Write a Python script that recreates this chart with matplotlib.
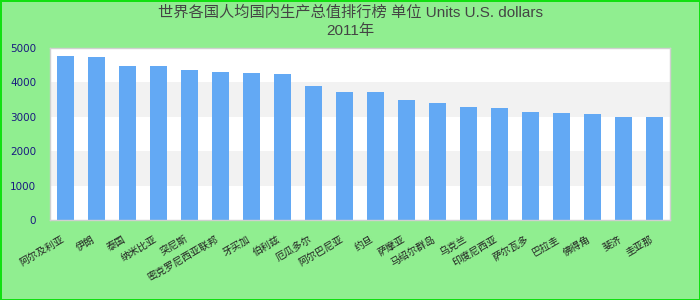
import numpy as np
import matplotlib
matplotlib.use('Agg')
import matplotlib.pyplot as plt

# data (2011, U.S. dollars)
countries = ['阿尔及利亚', '伊朗', '泰国', '纳米比亚', '突尼斯', '密克罗尼西亚联邦',
             '牙买加', '伯利兹', '厄瓜多尔', '阿尔巴尼亚', '约旦', '萨摩亚',
             '马绍尔群岛', '乌克兰', '印度尼西亚', '萨尔瓦多', '巴拉圭', '佛得角',
             '斐济', '圭亚那']
values = [4780, 4740, 4490, 4480, 4370, 4290, 4280, 4250, 3900, 3730,
          3720, 3500, 3410, 3290, 3270, 3150, 3120, 3090, 3000, 2990]
y_ticks = [0, 1000, 2000, 3000, 4000, 5000]
title = '世界各国人均国内生产总值排行榜 单位 Units U.S. dollars\n2011年'

cjk = ['Noto Sans CJK SC', 'DejaVu Sans']

fig = plt.figure(figsize=(7, 3), dpi=100)
fig.patch.set_facecolor('#90ee90')
fig.patch.set_edgecolor('#11e011')
fig.patch.set_linewidth(2)

ax = fig.add_axes([50 / 700, 80 / 300, 620 / 700, 172 / 300])
ax.set_facecolor('white')

# alternating horizontal bands
for i in range(len(y_ticks) - 1):
    if i % 2 == 1:
        ax.axhspan(y_ticks[i], y_ticks[i + 1], color='#f2f2f2', zorder=0, lw=0)

x = np.arange(len(values))
ax.bar(x, values, width=0.54, color='#63a9f4', zorder=2)

ax.set_xlim(-0.5, len(values) - 0.5)
ax.set_ylim(0, 5000)
ax.set_yticks(y_ticks)
ax.set_yticklabels([str(v) for v in y_ticks], color='#1a1a80', fontsize=7.5,
                   family='DejaVu Sans')
ax.set_xticks(x)
ax.set_xticklabels(countries, rotation=30, ha='right', fontsize=7.2,
                   family=cjk, color='#222222')
ax.tick_params(axis='both', length=0)
ax.tick_params(axis='y', pad=10)
ax.tick_params(axis='x', pad=10)

for s in ax.spines.values():
    s.set_color('#d0d0d0')
    s.set_linewidth(1)

fig.text(0.5, 1 - 5 / 300, title, ha='center', va='top', fontsize=11,
         color='#444444', family=['Liberation Sans', 'Noto Sans CJK SC'],
         linespacing=1.4)

fig.savefig('out.png', dpi=100, facecolor=fig.get_facecolor(),
            edgecolor=fig.get_edgecolor())
